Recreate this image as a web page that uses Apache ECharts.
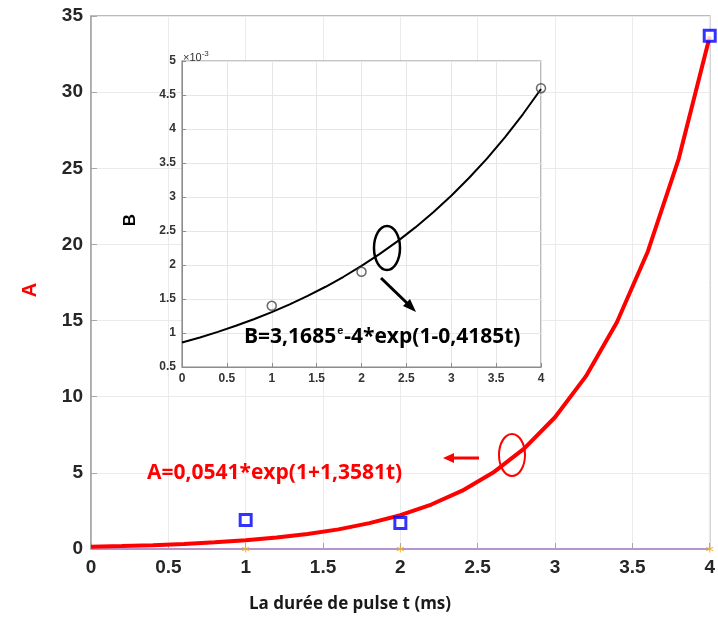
<!DOCTYPE html>
<html><head><meta charset="utf-8">
<script src="https://cdn.jsdelivr.net/npm/echarts@6/dist/echarts.min.js"></script>
<style>html,body{margin:0;padding:0;background:#fff}#c{width:718px;height:618px}</style>
</head><body><div id="c"></div>
<script>
// ---- data ----
const fitT = [0,0.2,0.4,0.6,0.8,1.0,1.2,1.4,1.6,1.8,2.0,2.2,2.4,2.6,2.8,3.0,3.2,3.4,3.6,3.8,4.0];
const aFit = [0.147,0.193,0.253,0.332,0.436,0.572,0.750,0.985,1.29,1.70,2.22,2.92,3.83,5.02,6.59,8.65,11.35,14.89,19.54,25.64,33.65];
const measT = [1,2,4];
const aMeas = [1.9,1.7,33.7];
const zeroT = [0,4];
const zeroVals = [0,0];
const starVals = [0,0,0];
const bFit = [0.860,0.935,1.017,1.106,1.202,1.307,1.421,1.545,1.680,1.827,1.986,2.160,2.348,2.553,2.776,3.019,3.283,3.569,3.881,4.220,4.588]; // x1e-3
const bMeas = [1.4,1.9,4.6]; // x1e-3
const xLabel = 'La durée de pulse t (ms)';
const aEq = 'A=0,0541*exp(1+1,3581t)';
const bEqRich = 'B=3,1685{e|e}-4*exp(1-0,4185t)';

const pairs = (xs, ys) => xs.map((x, i) => [x, ys[i]]);
const tickFont = 'Liberation Sans, Arial, sans-serif';
const eqFont = '"Open Sans", Lato, sans-serif';
const chart = echarts.init(document.getElementById('c'), null, {renderer:'canvas'});
chart.setOption({
  animation: false,
  backgroundColor: '#fff',
  grid: [
    {left: 91, top: 16, width: 621, height: 533, show: true, borderColor: '#a6a6a6', borderWidth: 1.5, backgroundColor: 'transparent'},
    {left: 182, top: 61, width: 359, height: 306, show: true, borderColor: '#8c8c8c', borderWidth: 1.2, backgroundColor: '#fff', z: 3}
  ],
  xAxis: [
    {gridIndex: 0, type: 'value', min: 0, max: 4, interval: 0.5,
     axisLine: {lineStyle: {color: '#a6a6a6', width: 1.5}},
     axisTick: {inside: true, length: 6, lineStyle: {color: '#a6a6a6'}},
     axisLabel: {margin: 9, fontSize: 19, fontWeight: 'bold', color: '#262626', fontFamily: tickFont},
     splitLine: {show: true, lineStyle: {color: '#ebebeb', width: 1}}},
    {gridIndex: 1, type: 'value', min: 0, max: 4, interval: 0.5, z: 4,
     axisLine: {lineStyle: {color: '#8c8c8c'}},
     axisTick: {inside: true, length: 4, lineStyle: {color: '#8c8c8c'}},
     axisLabel: {margin: 6, fontSize: 12, fontWeight: 'bold', color: '#333', fontFamily: tickFont},
     splitLine: {show: true, lineStyle: {color: '#e6e6e6', width: 1}}}
  ],
  yAxis: [
    {gridIndex: 0, type: 'value', min: 0, max: 35, interval: 5,
     axisLine: {show: true, lineStyle: {color: '#a6a6a6', width: 1.5}},
     axisTick: {show: true, inside: true, length: 6, lineStyle: {color: '#a6a6a6'}},
     axisLabel: {margin: 8, fontSize: 19, fontWeight: 'bold', color: '#262626', fontFamily: tickFont},
     splitLine: {show: true, lineStyle: {color: '#ebebeb', width: 1}}},
    {gridIndex: 1, type: 'value', min: 0.5, max: 5, interval: 0.5, z: 4,
     axisLine: {show: true, lineStyle: {color: '#8c8c8c'}},
     axisTick: {show: true, inside: true, length: 4, lineStyle: {color: '#8c8c8c'}},
     axisLabel: {margin: 6, fontSize: 12, fontWeight: 'bold', color: '#333', fontFamily: tickFont},
     splitLine: {show: true, lineStyle: {color: '#e6e6e6', width: 1}}}
  ],
  series: [
    {type: 'line', xAxisIndex: 0, yAxisIndex: 0, data: pairs(zeroT, zeroVals), symbol: 'none',
     lineStyle: {color: '#b794cc', width: 2}, z: 2},
    {type: 'scatter', xAxisIndex: 0, yAxisIndex: 0, data: pairs(measT, starVals),
     symbol: 'path://M0,-5L0,5M-4.3,-2.5L4.3,2.5M-4.3,2.5L4.3,-2.5', symbolSize: 7,
     itemStyle: {color: 'none', borderColor: '#EDB120', borderWidth: 1.2}, z: 3},
    {type: 'line', xAxisIndex: 0, yAxisIndex: 0, data: pairs(fitT, aFit), symbol: 'none',
     lineStyle: {color: '#ff0000', width: 4}, z: 3},
    {type: 'scatter', xAxisIndex: 0, yAxisIndex: 0, data: pairs(measT, aMeas), symbol: 'rect', symbolSize: 11,
     itemStyle: {color: '#fff', borderColor: '#0000ff', borderWidth: 3}, z: 4},
    {type: 'line', xAxisIndex: 1, yAxisIndex: 1, data: pairs(fitT, bFit), symbol: 'none',
     lineStyle: {color: '#000', width: 2}, z: 6},
    {type: 'scatter', xAxisIndex: 1, yAxisIndex: 1, data: pairs(measT, bMeas), symbol: 'circle', symbolSize: 9,
     itemStyle: {color: 'transparent', borderColor: '#444', borderWidth: 1.5}, z: 6}
  ],
  graphic: [
    {type: 'text', x: 350, y: 604, z: 10,
     style: {text: xLabel, font: 'bold 17px ' + eqFont, fill: '#1a1a1a', align: 'center', verticalAlign: 'middle'}},
    {type: 'text', x: 30, y: 290, rotation: Math.PI / 2, z: 10,
     style: {text: 'A', font: 'bold 20px "Liberation Sans", Arial, sans-serif', fill: '#ff0000', align: 'center', verticalAlign: 'middle'}},
    {type: 'text', x: 130, y: 220, rotation: Math.PI / 2, z: 10,
     style: {text: 'B', font: 'bold 17px "Liberation Sans", Arial, sans-serif', fill: '#000', align: 'center', verticalAlign: 'middle'}},
    {type: 'text', x: 183, y: 50, z: 10,
     style: {text: '×10{s|-3}', font: '11px "Liberation Sans", Arial, sans-serif', fill: '#333',
       rich: {s: {fontSize: 8, padding: [0, 0, 7, 0], fill: '#333'}}}},
    {type: 'text', x: 244, y: 337, z: 10,
     style: {text: bEqRich, font: 'bold 21px ' + eqFont, fill: '#000', verticalAlign: 'middle',
       rich: {e: {fontSize: 11, fontWeight: 'bold', padding: [0, 1, 12, 1], fill: '#000'}}}},
    {type: 'text', x: 147, y: 473, z: 10,
     style: {text: aEq, font: 'bold 21px ' + eqFont, fill: '#ff0000', verticalAlign: 'middle'}},
    {type: 'ellipse', z: 10, shape: {cx: 387, cy: 248, rx: 13, ry: 22}, style: {fill: 'none', stroke: '#000', lineWidth: 2.5}},
    {type: 'line', z: 10, shape: {x1: 381, y1: 278, x2: 409, y2: 305}, style: {stroke: '#000', lineWidth: 3}},
    {type: 'polygon', z: 10, shape: {points: [[416, 312], [403, 306], [410, 299]]}, style: {fill: '#000'}},
    {type: 'ellipse', z: 10, shape: {cx: 512, cy: 455, rx: 13, ry: 21}, style: {fill: 'none', stroke: '#ff0000', lineWidth: 2}},
    {type: 'line', z: 10, shape: {x1: 479, y1: 458, x2: 452, y2: 458}, style: {stroke: '#ff0000', lineWidth: 3}},
    {type: 'polygon', z: 10, shape: {points: [[443, 458], [454, 453], [454, 463]]}, style: {fill: '#ff0000'}}
  ]
});
</script></body></html>
